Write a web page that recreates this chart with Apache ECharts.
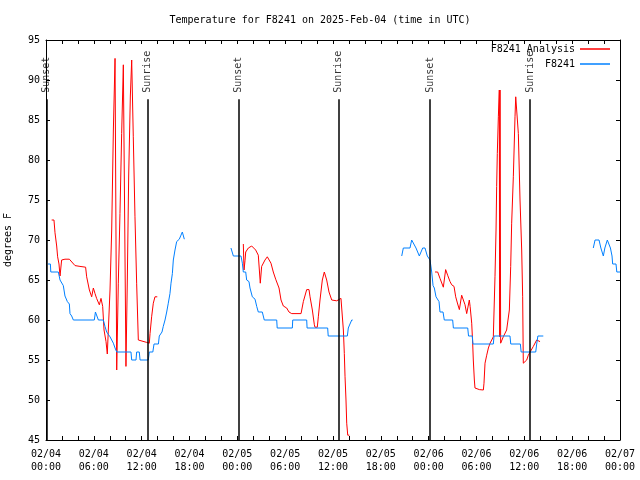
<!DOCTYPE html>
<html><head><meta charset="utf-8">
<script src="https://cdn.jsdelivr.net/npm/echarts@6/dist/echarts.min.js"></script>
<style>html,body{margin:0;padding:0;background:#fff}#c{width:640px;height:480px}</style>
</head><body><div id="c"></div>
<script>
// hours since 2025-02-04 00:00 UTC, temperature in degrees F
const analysisDay1 = [[0.71,72.5],[1.0,72.5],[1.13,70.9],[1.34,69.25],[1.46,67.9],[1.63,67],[1.76,65.5],[1.96,67.5],[2.38,67.6],[2.93,67.6],[3.64,66.8],[4.26,66.7],[4.97,66.6],[5.1,65.4],[5.44,63.75],[5.73,62.9],[5.94,64],[6.15,63.3],[6.35,62.7],[6.69,61.9],[6.9,62.7],[7.11,61.7],[7.28,58.75],[7.53,57.3],[7.69,55.75],[7.94,55.75],[8.03,63.75],[8.24,71.25],[8.45,83.75],[8.66,92.7],[8.87,53.75],[9.07,64.6],[9.28,73.3],[9.49,83.3],[9.7,91.9],[9.95,91.9],[10.03,54.2],[10.2,65],[10.37,78],[10.58,88],[10.75,92.5],[10.95,82.9],[11.16,72.9],[11.37,64.6],[11.58,57.5],[12.63,57.2],[12.96,57.1],[13.05,58.3],[13.25,60.4],[13.46,62.1],[13.67,62.9],[13.96,62.9]];
const analysisDay2 = [[24.75,69.5],[24.84,66.25],[24.96,67.4],[25.05,68.5],[25.38,69],[25.8,69.25],[26.0,69.25],[26.3,68.75],[26.63,68.1],[26.76,67.9],[26.88,64.6],[27.05,66.7],[27.47,67.5],[27.76,67.9],[28.01,67.9],[28.22,67.1],[28.51,66.0],[28.81,65.1],[29.06,65.0],[29.23,64.0],[29.48,62.5],[29.77,61.75],[30.19,61.5],[30.48,61.0],[30.82,60.8],[31.99,60.8],[32.28,62.3],[32.7,63.8],[32.99,63.8],[33.12,62.9],[33.41,61.25],[33.66,59.4],[33.74,59.1],[34.03,59.1],[34.16,60.4],[34.37,62.5],[34.66,65],[34.91,66.0],[35.21,65],[35.5,63.5],[35.84,62.5],[36.46,62.4],[37.0,62.7],[37.09,61.5],[37.3,58.75],[37.42,55.8],[37.51,52.9],[37.63,50],[37.72,47.1],[37.85,45.6],[38.05,45.6]];
const analysisDay3 = [[48.8,66.0],[49.13,66.0],[49.42,65.2],[49.84,64.1],[50.13,66.3],[50.38,65.6],[50.68,64.8],[50.89,64.4],[51.18,64.2],[51.39,62.9],[51.64,62.0],[51.85,61.3],[51.93,61.3],[52.14,63.1],[52.35,62.5],[52.56,61.9],[52.77,60.8],[52.9,60.8],[53.1,62.5],[53.2,61.7],[53.4,59.6],[53.52,57.1],[53.6,55],[53.73,52.5],[53.81,51.5],[54.36,51.3],[54.86,51.25],[54.94,52.1],[55.07,54.6],[55.28,55.6],[55.49,56.5],[55.7,57.1],[55.91,57.5],[56.11,57.9],[56.32,65.4],[56.45,71.25],[56.53,76.7],[56.61,80.8],[56.74,85.4],[56.86,88.75],[56.91,57.9],[56.95,88.75],[57.03,57.1],[57.36,57.9],[57.78,58.75],[57.99,59.0],[58.12,61.25],[58.29,66.7],[58.41,72.1],[58.62,77.9],[58.83,85.4],[58.92,87.9],[59.12,87.9],[59.25,83.3],[59.46,75],[59.67,68.75],[59.79,62.9],[59.87,54.6],[60.09,54.6],[60.3,55],[60.5,55.6],[60.71,55.8],[61.13,56.7],[61.34,56.9],[61.55,57.5],[61.76,57.3],[61.97,57.3]];

const obsDay1 = [[0.25,67],[0.55,67],[0.6,66],[1.55,66],[1.76,65],[2.17,64.3],[2.38,63],[2.68,62.3],[2.93,62],[3.01,60.8],[3.22,60.5],[3.43,60],[6.06,60],[6.2,61],[6.35,61],[6.57,60],[7.19,60],[7.4,59.2],[7.61,58.5],[8.03,57.9],[8.45,57.1],[8.66,56.5],[8.87,56],[10.66,56],[10.75,55],[11.29,55],[11.37,56],[11.7,56],[11.8,55],[12.83,55],[12.96,56],[13.4,56],[13.55,57],[14.1,57],[14.21,58],[14.55,58.5],[14.71,59.2],[14.93,60],[15.14,61],[15.34,62.1],[15.55,63.3],[15.68,64.6],[15.85,65.8],[15.97,67.5],[16.18,68.75],[16.39,69.8],[16.72,70.1],[16.93,70.6],[17.1,71],[17.35,70.1]];
const obsDay2 = [[23.2,69],[23.5,68],[24.46,68],[24.63,67.1],[24.75,66],[25.05,66],[25.17,65],[25.46,64.8],[25.59,64],[25.88,62.9],[26.22,62.6],[26.43,61.7],[26.63,61],[27.13,61],[27.38,60],[28.94,60],[29.0,59],[30.9,59],[30.95,60],[32.7,60],[32.75,59],[35.33,59],[35.4,58],[37.8,58],[37.92,59],[38.13,59.5],[38.35,60],[38.47,60]];
const obsDay3 = [[44.62,68],[44.82,69],[45.66,69],[45.87,70],[46.07,70],[46.41,69],[46.83,68],[47.25,69],[47.54,69],[47.83,68],[48.17,67.5],[48.38,66],[48.55,64.3],[48.71,64],[48.92,62.9],[49.3,62.3],[49.42,61],[49.8,61],[49.96,60],[51.01,60],[51.1,59],[52.9,59],[53.0,58],[53.48,58],[53.55,57],[56.11,57],[56.2,58],[58.2,58],[58.3,57],[59.5,57],[59.6,56],[61.43,56],[61.55,57],[61.7,58],[62.38,58]];
const obsDay4 = [[68.65,69],[68.87,70],[69.37,70],[69.6,69],[69.91,68],[70.1,69],[70.41,70],[70.62,70],[70.8,69],[71.0,68],[71.08,67],[71.5,67],[71.6,66],[72,66]];

const eventHours = [0.1, 12.72, 24.15, 36.7, 48.19, 60.72];
const eventNames = ['Sunset','Sunrise','Sunset','Sunrise','Sunset','Sunrise'];

const xTickLabels = ['02/04\n00:00','02/04\n06:00','02/04\n12:00','02/04\n18:00','02/05\n00:00','02/05\n06:00','02/05\n12:00','02/05\n18:00','02/06\n00:00','02/06\n06:00','02/06\n12:00','02/06\n18:00','02/07\n00:00'];

const FONT = '"DejaVu Sans Mono", monospace';
function joinSegs(segs){
  const out = [];
  segs.forEach((s,i)=>{
    if (i>0){ const prev = segs[i-1]; out.push([(prev[prev.length-1][0]+s[0][0])/2, null]); }
    s.forEach(p=>out.push(p));
  });
  return out;
}
const txt = {fontFamily: FONT, fontSize: 10, color: '#000'};
const axLine = {show:true, onZero:false, lineStyle:{color:'#000', width:1}};
const axTick = {show:true, inside:true, length:4, lineStyle:{color:'#000', width:1}};

const chart = echarts.init(document.getElementById('c'), null, {renderer:'canvas'});
chart.setOption({
  animation: false,
  backgroundColor: '#fff',
  title: {text:'Temperature for F8241 on 2025-Feb-04 (time in UTC)', left:'center', top:15, padding:0,
    textStyle:{fontFamily:FONT, fontSize:10, fontWeight:'normal', color:'#000'}},
  legend: [
    {data:['F8241 Analysis'], right:30, top:44, padding:0, align:'right', icon:'rect', itemWidth:30, itemHeight:1.5, itemGap:0, selectedMode:false, textStyle:txt},
    {data:['F8241'], right:30, top:59, padding:0, align:'right', icon:'rect', itemWidth:30, itemHeight:1.5, itemGap:0, selectedMode:false, textStyle:txt}
  ],
  grid: {left:46, right:20, top:40, bottom:40, containLabel:false, outerBoundsMode:'none'},
  xAxis: [
    {type:'value', min:0, max:72, interval:2, position:'bottom', axisLine:axLine, axisTick:axTick, splitLine:{show:false},
     axisLabel:Object.assign({margin:8, lineHeight:13, formatter:v=>{const r=Math.round(v); return r%6===0 ? xTickLabels[r/6] : '';}}, txt)},
    {type:'value', min:0, max:72, interval:2, position:'top', axisLine:axLine, axisTick:axTick, splitLine:{show:false}, axisLabel:{show:false}}
  ],
  yAxis: [
    {type:'value', min:45, max:95, interval:5, position:'left', axisLine:axLine, axisTick:axTick, splitLine:{show:false},
     axisLabel:Object.assign({margin:6}, txt),
     name:'degrees F', nameLocation:'middle', nameGap:33, nameRotate:90, nameTextStyle:txt},
    {type:'value', min:45, max:95, interval:5, position:'right', axisLine:axLine, axisTick:axTick, splitLine:{show:false}, axisLabel:{show:false}}
  ],
  series: [
    {name:'F8241 Analysis', type:'line', xAxisIndex:0, yAxisIndex:0, data: joinSegs([analysisDay1, analysisDay2, analysisDay3]),
     symbol:'none', showSymbol:false, connectNulls:false, lineStyle:{color:'#ff0000', width:1}, itemStyle:{color:'#ff0000'}},
    {name:'F8241', type:'line', xAxisIndex:0, yAxisIndex:0, data: joinSegs([obsDay1, obsDay2, obsDay3, obsDay4]),
     symbol:'none', showSymbol:false, connectNulls:false, lineStyle:{color:'#0080ff', width:1}, itemStyle:{color:'#0080ff'}},
    {name:'events', type:'scatter', xAxisIndex:0, yAxisIndex:0, silent:true, symbolSize:0, clip:false, z:4,
     data: eventHours.map((h,i)=>({value:[h, 88.4], name:eventNames[i]})),
     label:Object.assign({show:true, formatter:'{b}', position:[0,0], rotate:90, align:'left', verticalAlign:'middle'}, txt),
     markLine:{silent:true, symbol:['none','none'], label:{show:false}, lineStyle:{color:'#000', width:1.5, type:'solid'},
       data: eventHours.map(h=>[{coord:[h,45]},{coord:[h,87.6]}])}}
  ]
});
</script></body></html>
